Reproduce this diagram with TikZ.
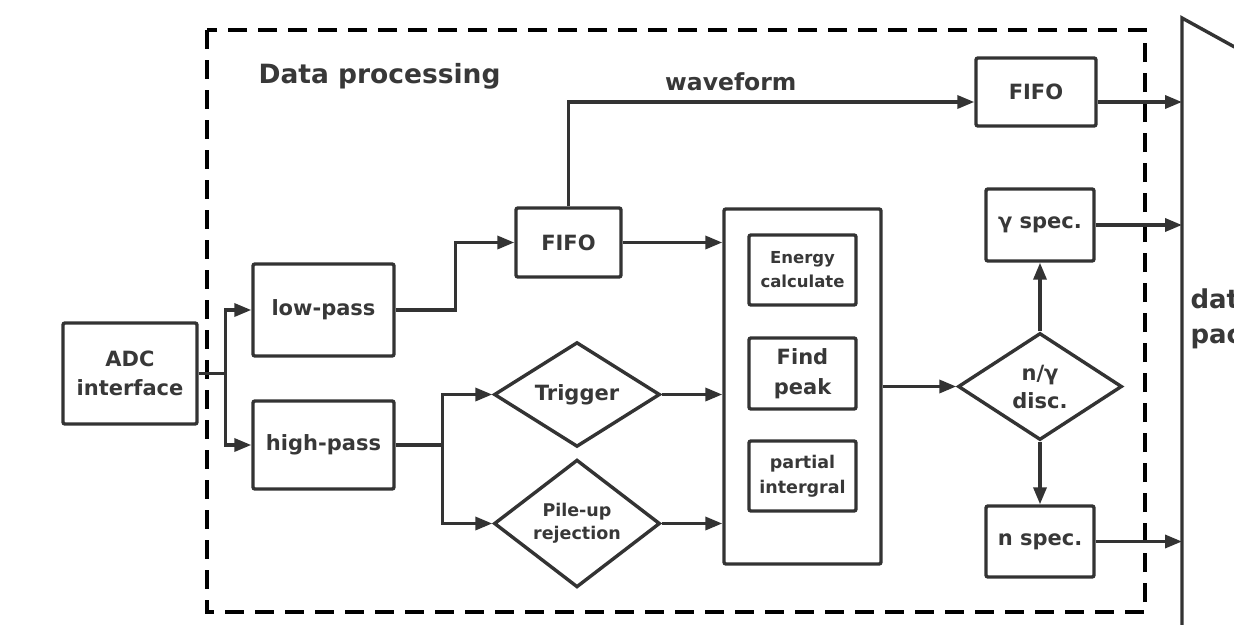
\documentclass[tikz,border=0pt]{standalone}
\usepackage{fontspec}
\setmainfont{DejaVu Sans}
\usetikzlibrary{arrows.meta,shapes.geometric}
\definecolor{ink}{HTML}{333333}
\definecolor{txt}{HTML}{383838}
\newcommand{\fsz}[2]{\bfseries\fontsize{#1}{#2}\selectfont}
\begin{document}
\begin{tikzpicture}[x=1pt,y=-1pt,
  every node/.style={text=txt,font=\bfseries},
  blk/.style={draw=ink,line width=3.4pt,rounded corners=2pt,fill=white,
    inner sep=0pt,align=center,font=\fsz{21}{29}},
  dia/.style={draw=ink,line width=3.4pt,diamond,fill=white,inner sep=0pt,
    align=center,font=\fsz{21}{28}},
  wire/.style={draw=ink,line width=3.4pt},
  arr/.style={wire,-{Triangle[length=17pt,width=13pt]}},
  frame/.style={draw=black,line width=4pt,dash pattern=on 19pt off 11pt}]
\useasboundingbox (0,0) rectangle (1234,624);
\clip (0,0) rectangle (1234,624);
\fill[white] (0,0) rectangle (1234,624);

% processing frame
\draw[frame] (207,30) rectangle (1145,612);
\node[font=\fsz{26.5}{32},anchor=base west] (title) at (255,83) {Data processing};

% input and filters
\node[blk,minimum width=134pt,minimum height=101pt] (adc) at (130,373.5) {ADC\\interface};
\node[blk,minimum width=141pt,minimum height=92pt] (low) at (323.5,310) {low-pass};
\node[blk,minimum width=141pt,minimum height=88pt] (high) at (323.5,445) {high-pass};

% buffers
\node[blk,minimum width=105pt,minimum height=69pt] (fifoA) at (568.5,242.5) {FIFO};
\node[blk,minimum width=120pt,minimum height=68pt] (fifoB) at (1036,92) {FIFO};

% trigger and pile-up
\node[dia,minimum width=166pt,minimum height=97pt] (trig) at (577,394.5) {Trigger};
\node[dia,minimum width=166pt,minimum height=107pt,font=\fsz{17.5}{23}] (pile) at (577,523.5) {Pile-up\\rejection};

% pulse analysis block
\node[blk,minimum width=157pt,minimum height=355pt] (proc) at (802.5,386.5) {};
\node[blk,minimum width=107pt,minimum height=70pt,font=\fsz{16.5}{24}] (energy) at (802.5,270) {Energy\\calculate};
\node[blk,minimum width=107pt,minimum height=71pt,font=\fsz{21}{30}] (peak) at (802.5,373.5) {Find\\peak};
\node[blk,minimum width=107pt,minimum height=70pt,font=\fsz{17.5}{25}] (partial) at (802.5,476) {partial\\intergral};

% discrimination and spectra
\node[dia,minimum width=164pt,minimum height=107pt] (disc) at (1040,386.5) {n/γ\\disc.};
\node[blk,minimum width=108pt,minimum height=72pt] (gspec) at (1040,225) {γ spec.};
\node[blk,minimum width=108pt,minimum height=71pt] (nspec) at (1040,541.5) {n spec.};

% data package edge
\coordinate (pkTop) at (1182,18);
\coordinate (pkBot) at (1182,630);
\coordinate (pkSlope) at (1240,50);
\draw[wire] (pkBot) -- (pkTop) -- (pkSlope);
\node[anchor=base west,font=\fsz{26}{35}] (pkgA) at (1187,308) {data};
\node[anchor=base west,font=\fsz{26}{35}] (pkgB) at (1187,343) {package};

% connectors
\draw[arr] (adc.east) -- ++(27,0) coordinate (jAdc) |- (low.west);
\draw[arr] (jAdc) |- (high.west);
\draw[arr] (low.east) -- ++(60,0) |- (fifoA.west);
\draw[arr] (fifoA.north) |- ([yshift=-10pt]fifoB.west)
  node[pos=0.7,anchor=base,yshift=12pt,font=\fsz{23.5}{28}] (wf) {waveform};
\draw[arr] (fifoA.east) -- (fifoA.east -| proc.west);
\draw[arr] (high.east) -- ++(47,0) coordinate (jHigh) |- (trig.west);
\draw[arr] (jHigh) |- (pile.west);
\draw[arr] (trig.east) -- (trig.east -| proc.west);
\draw[arr] (pile.east) -- (pile.east -| proc.west);
\draw[arr] (proc.east |- disc.west) -- (disc.west);
\draw[arr] (disc.north) -- (gspec.south);
\draw[arr] (disc.south) -- (nspec.north);
\draw[arr] ([yshift=-10pt]fifoB.east) -- ([yshift=-10pt]fifoB.east -| pkTop);
\draw[arr] (gspec.east) -- (gspec.east -| pkTop);
\draw[arr] (nspec.east) -- (nspec.east -| pkTop);
\end{tikzpicture}
\end{document}
